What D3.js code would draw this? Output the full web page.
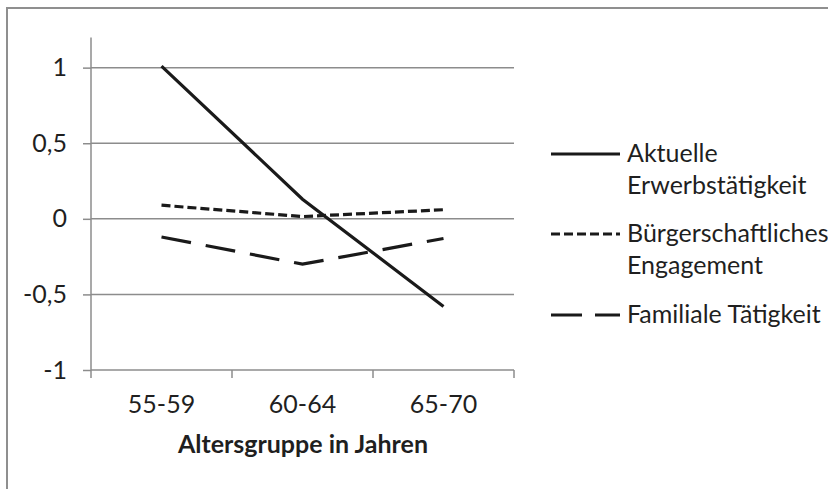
<!DOCTYPE html>
<html>
<head>
<meta charset="utf-8">
<script src="https://cdn.jsdelivr.net/npm/d3@7"></script>
<style>
  html, body { margin: 0; padding: 0; background: #fff; }
  svg { display: block; }
  text { font-family: Lato, "Open Sans", sans-serif; fill: #1f1f1f; }
</style>
</head>
<body>
<svg id="chart" width="828" height="489"></svg>
<script>
const categories = ["55-59", "60-64", "65-70"];
const seriesNames = ["Aktuelle Erwerbstätigkeit", "Bürgerschaftliches Engagement", "Familiale Tätigkeit"];
const legendLines = [["Aktuelle", "Erwerbstätigkeit"], ["Bürgerschaftliches", "Engagement"], ["Familiale Tätigkeit"]];
const erwerb = [1.01, 0.13, -0.58];
const buerger = [0.09, 0.015, 0.06];
const familie = [-0.12, -0.30, -0.13];
const yTicks = [-1, -0.5, 0, 0.5, 1];
const yTickLabels = ["-1", "-0,5", "0", "0,5", "1"];
const xTitle = "Altersgruppe in Jahren";

const series = [
  { name: seriesNames[0], values: erwerb, dash: null },
  { name: seriesNames[1], values: buerger, dash: "9,4" },
  { name: seriesNames[2], values: familie, dash: "30,15" }
];

const svg = d3.select("#chart");
const gridColor = "#8c8c8c";
const lineColor = "#1a1a1a";
const fs = 25;

// outer frame
svg.append("rect").attr("x", 7).attr("y", 8).attr("width", 900).attr("height", 600)
  .attr("fill", "none").attr("stroke", "#8f8f8f").attr("stroke-width", 2);

const x = d3.scaleBand().domain(categories).range([91, 514]).padding(0);
const y = d3.scaleLinear().domain([-1, 1.2]).range([370, 37.4]);
const cx = d => x(d) + x.bandwidth() / 2;

// gridlines
svg.append("g").selectAll("line").data(yTicks.filter(v => v > -1)).join("line")
  .attr("x1", 91).attr("x2", 514)
  .attr("y1", d => y(d)).attr("y2", d => y(d))
  .attr("stroke", gridColor).attr("stroke-width", 1.5);

// y axis
const yAxis = d3.axisLeft(y).tickValues(yTicks).tickSize(8)
  .tickFormat((d, i) => yTickLabels[i]).tickPadding(16);
const gy = svg.append("g").attr("transform", "translate(91,0)").call(yAxis);
gy.select(".domain").attr("stroke", gridColor).attr("stroke-width", 1.5)
  .attr("d", `M0,${y(1.2)}V${y(-1)}`);
gy.selectAll(".tick line").attr("stroke", gridColor).attr("stroke-width", 1.5);
gy.selectAll(".tick text").attr("font-size", fs).attr("font-family", "Lato").attr("fill", "#1f1f1f");

// x axis
const edges = categories.map(c => x(c)).concat([x(categories[categories.length - 1]) + x.bandwidth()]);
svg.append("line").attr("x1", 91).attr("x2", 514).attr("y1", y(-1)).attr("y2", y(-1))
  .attr("stroke", gridColor).attr("stroke-width", 1.5);
svg.append("g").selectAll("line").data(edges).join("line")
  .attr("x1", d => d).attr("x2", d => d)
  .attr("y1", y(-1)).attr("y2", y(-1) + 8)
  .attr("stroke", gridColor).attr("stroke-width", 1.5);
svg.append("g").selectAll("text").data(categories).join("text")
  .attr("x", d => cx(d)).attr("y", 413)
  .attr("text-anchor", "middle").attr("font-size", fs).text(d => d);

svg.append("text").attr("x", 303).attr("y", 453).attr("text-anchor", "middle")
  .attr("font-size", fs).attr("font-weight", "bold").text(xTitle);

// lines
const line = d3.line().x((d, i) => cx(categories[i])).y(d => y(d));
svg.append("g").selectAll("path").data(series).join("path")
  .attr("d", d => line(d.values))
  .attr("fill", "none").attr("stroke", lineColor).attr("stroke-width", 3.2)
  .attr("stroke-dasharray", d => d.dash);

// legend
const legendY = [154, 234, 315];
const lg = svg.append("g").selectAll("g").data(series).join("g");
lg.append("line").attr("x1", 551).attr("x2", 620)
  .attr("y1", (d, i) => legendY[i]).attr("y2", (d, i) => legendY[i])
  .attr("stroke", lineColor).attr("stroke-width", 3.2)
  .attr("stroke-dasharray", (d, i) => i === 1 ? "9,4" : (i === 2 ? "31,13" : null));
lg.each(function(d, i) {
  const t = d3.select(this).append("text").attr("x", 627).attr("y", legendY[i] + 8).attr("font-size", fs);
  legendLines[i].forEach((s, j) => {
    t.append("tspan").attr("x", 627).attr("dy", j === 0 ? 0 : 32).text(s);
  });
});
</script>
</body>
</html>
